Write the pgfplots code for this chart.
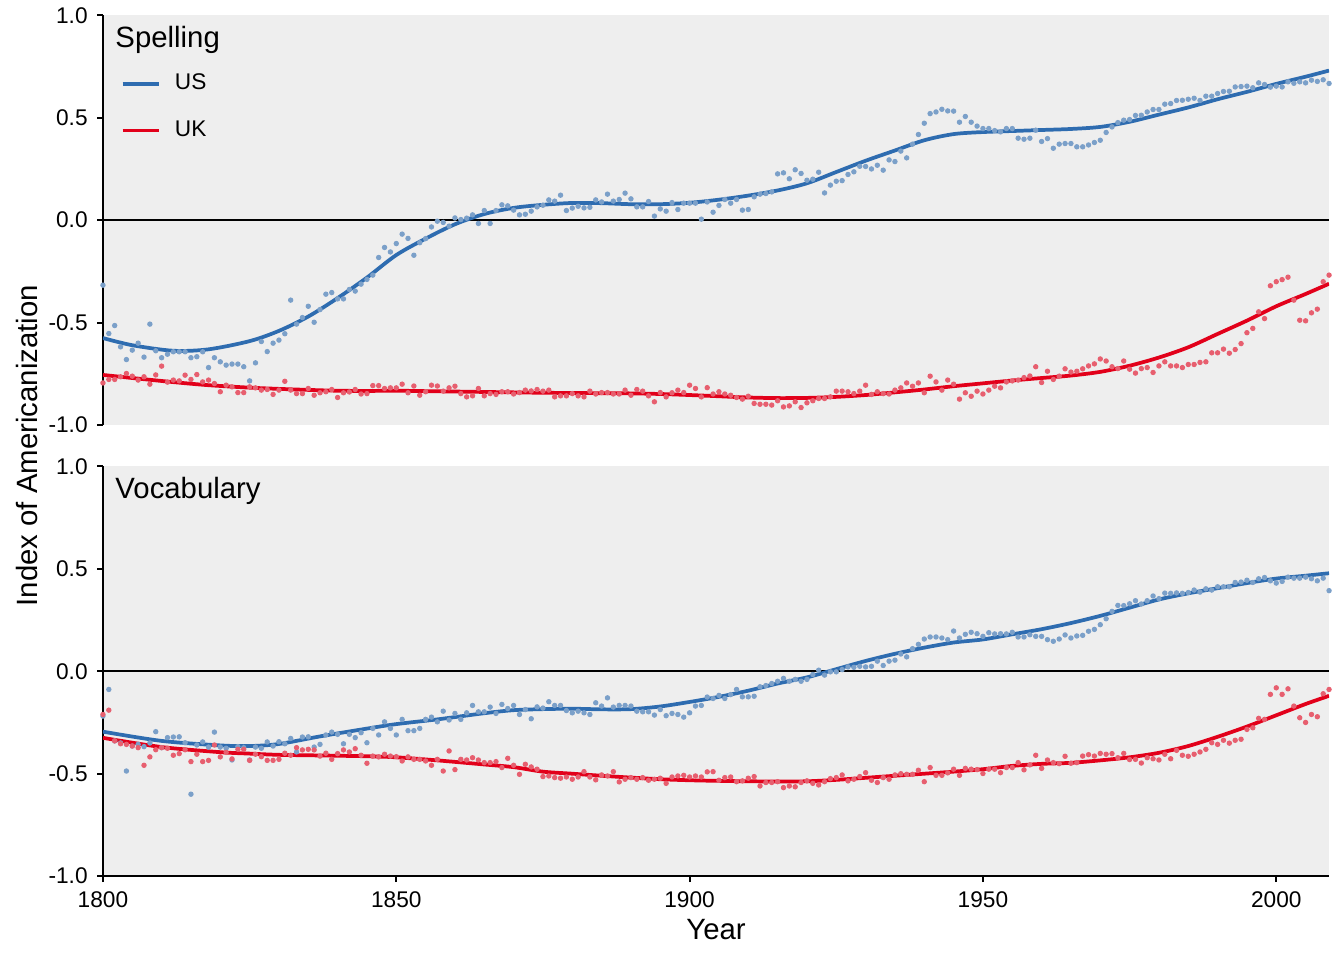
\documentclass[border=0pt]{standalone}
\usepackage{fontspec}
\setmainfont{Liberation Sans}
\usepackage{pgfplots}
\usepackage{pgfplotstable}
\pgfplotsset{compat=1.18}

\definecolor{usblue}{RGB}{46,108,176}
\definecolor{ukred}{RGB}{226,0,26}
\definecolor{panelgray}{RGB}{238,238,238}

% yearly index, spelling panel
\pgfplotstableread{
year us uk
1800 -0.317 -0.794
1801 -0.553 -0.777
1802 -0.514 -0.777
1803 -0.618 -0.764
1804 -0.680 -0.748
1805 -0.634 -0.761
1806 -0.600 -0.780
1807 -0.668 -0.764
1808 -0.507 -0.800
1809 -0.637 -0.755
1810 -0.671 -0.712
1811 -0.654 -0.790
1812 -0.642 -0.780
1813 -0.642 -0.784
1814 -0.642 -0.756
1815 -0.671 -0.777
1816 -0.666 -0.753
1817 -0.642 -0.789
1818 -0.719 -0.780
1819 -0.671 -0.797
1820 -0.691 -0.837
1821 -0.707 -0.805
1822 -0.702 -0.813
1823 -0.702 -0.841
1824 -0.715 -0.841
1825 -0.784 -0.813
1826 -0.696 -0.818
1827 -0.592 -0.829
1828 -0.641 -0.826
1829 -0.600 -0.850
1830 -0.585 -0.829
1831 -0.554 -0.786
1832 -0.390 -0.829
1833 -0.507 -0.846
1834 -0.475 -0.846
1835 -0.420 -0.821
1836 -0.498 -0.854
1837 -0.436 -0.842
1838 -0.361 -0.837
1839 -0.353 -0.826
1840 -0.384 -0.865
1841 -0.384 -0.842
1842 -0.338 -0.838
1843 -0.346 -0.826
1844 -0.312 -0.848
1845 -0.289 -0.846
1846 -0.268 -0.807
1847 -0.182 -0.807
1848 -0.133 -0.821
1849 -0.155 -0.818
1850 -0.114 -0.818
1851 -0.068 -0.800
1852 -0.089 -0.842
1853 -0.171 -0.809
1854 -0.110 -0.854
1855 -0.090 -0.837
1856 -0.033 -0.805
1857 -0.005 -0.809
1858 -0.011 -0.834
1859 -0.029 -0.818
1860 0.011 -0.810
1861 0.003 -0.846
1862 0.010 -0.862
1863 0.026 -0.857
1864 -0.016 -0.821
1865 0.047 -0.857
1866 -0.016 -0.846
1867 0.047 -0.850
1868 0.075 -0.837
1869 0.070 -0.837
1870 0.049 -0.848
1871 0.026 -0.841
1872 0.029 -0.829
1873 0.044 -0.833
1874 0.065 -0.826
1875 0.073 -0.834
1876 0.099 -0.829
1877 0.093 -0.862
1878 0.122 -0.857
1879 0.047 -0.857
1880 0.059 -0.846
1881 0.068 -0.857
1882 0.060 -0.862
1883 0.063 -0.834
1884 0.099 -0.848
1885 0.089 -0.841
1886 0.127 -0.841
1887 0.093 -0.848
1888 0.101 -0.848
1889 0.132 -0.829
1890 0.104 -0.854
1891 0.065 -0.826
1892 0.065 -0.834
1893 0.091 -0.857
1894 0.020 -0.886
1895 0.055 -0.841
1896 0.044 -0.862
1897 0.086 -0.842
1898 0.052 -0.829
1899 0.083 -0.841
1900 0.083 -0.805
1901 0.083 -0.821
1902 0.005 -0.862
1903 0.089 -0.817
1904 0.039 -0.848
1905 0.072 -0.837
1906 0.101 -0.848
1907 0.083 -0.854
1908 0.101 -0.865
1909 0.049 -0.873
1910 0.052 -0.859
1911 0.114 -0.894
1912 0.127 -0.898
1913 0.130 -0.898
1914 0.138 -0.902
1915 0.226 -0.881
1916 0.231 -0.911
1917 0.202 -0.906
1918 0.246 -0.886
1919 0.228 -0.914
1920 0.195 -0.891
1921 0.200 -0.881
1922 0.234 -0.870
1923 0.133 -0.870
1924 0.171 -0.862
1925 0.190 -0.834
1926 0.193 -0.834
1927 0.223 -0.837
1928 0.236 -0.846
1929 0.263 -0.834
1930 0.262 -0.805
1931 0.250 -0.850
1932 0.268 -0.837
1933 0.244 -0.846
1934 0.294 -0.848
1935 0.286 -0.829
1936 0.337 -0.818
1937 0.304 -0.794
1938 0.371 -0.810
1939 0.418 -0.794
1940 0.473 -0.842
1941 0.520 -0.761
1942 0.528 -0.789
1943 0.541 -0.829
1944 0.533 -0.780
1945 0.532 -0.800
1946 0.478 -0.873
1947 0.506 -0.842
1948 0.478 -0.859
1949 0.459 -0.834
1950 0.447 -0.848
1951 0.447 -0.829
1952 0.437 -0.810
1953 0.431 -0.818
1954 0.447 -0.789
1955 0.447 -0.784
1956 0.400 -0.780
1957 0.395 -0.768
1958 0.400 -0.760
1959 0.439 -0.715
1960 0.384 -0.792
1961 0.398 -0.737
1962 0.351 -0.777
1963 0.371 -0.761
1964 0.374 -0.725
1965 0.374 -0.741
1966 0.358 -0.737
1967 0.358 -0.725
1968 0.367 -0.711
1969 0.379 -0.701
1970 0.390 -0.677
1971 0.428 -0.687
1972 0.455 -0.715
1973 0.476 -0.724
1974 0.488 -0.687
1975 0.491 -0.727
1976 0.511 -0.746
1977 0.512 -0.724
1978 0.528 -0.719
1979 0.540 -0.743
1980 0.540 -0.711
1981 0.566 -0.691
1982 0.569 -0.711
1983 0.584 -0.711
1984 0.585 -0.719
1985 0.590 -0.704
1986 0.595 -0.704
1987 0.584 -0.694
1988 0.605 -0.691
1989 0.605 -0.647
1990 0.618 -0.647
1991 0.628 -0.629
1992 0.629 -0.649
1993 0.650 -0.631
1994 0.652 -0.602
1995 0.654 -0.549
1996 0.646 -0.528
1997 0.670 -0.447
1998 0.662 -0.480
1999 0.649 -0.320
2000 0.654 -0.300
2001 0.650 -0.290
2002 0.675 -0.278
2003 0.668 -0.390
2004 0.675 -0.488
2005 0.670 -0.491
2006 0.683 -0.452
2007 0.677 -0.434
2008 0.685 -0.300
2009 0.667 -0.268
}\spelling

% yearly index, vocabulary panel
\pgfplotstableread{
year us uk
1800 -0.219 -0.211
1801 -0.089 -0.190
1802 -0.340 -0.340
1803 -0.350 -0.354
1804 -0.487 -0.357
1805 -0.365 -0.365
1806 -0.357 -0.373
1807 -0.368 -0.459
1808 -0.350 -0.418
1809 -0.295 -0.383
1810 -0.373 -0.373
1811 -0.324 -0.376
1812 -0.321 -0.410
1813 -0.320 -0.402
1814 -0.349 -0.383
1815 -0.600 -0.441
1816 -0.360 -0.405
1817 -0.345 -0.441
1818 -0.370 -0.435
1819 -0.297 -0.360
1820 -0.370 -0.418
1821 -0.376 -0.396
1822 -0.433 -0.428
1823 -0.368 -0.381
1824 -0.373 -0.381
1825 -0.433 -0.435
1826 -0.370 -0.405
1827 -0.376 -0.417
1828 -0.345 -0.435
1829 -0.365 -0.435
1830 -0.344 -0.430
1831 -0.354 -0.400
1832 -0.328 -0.410
1833 -0.394 -0.373
1834 -0.321 -0.384
1835 -0.320 -0.381
1836 -0.370 -0.384
1837 -0.357 -0.414
1838 -0.311 -0.400
1839 -0.297 -0.430
1840 -0.308 -0.402
1841 -0.354 -0.384
1842 -0.308 -0.394
1843 -0.324 -0.378
1844 -0.300 -0.410
1845 -0.349 -0.449
1846 -0.279 -0.414
1847 -0.311 -0.418
1848 -0.247 -0.405
1849 -0.279 -0.414
1850 -0.311 -0.417
1851 -0.235 -0.438
1852 -0.290 -0.418
1853 -0.290 -0.430
1854 -0.279 -0.430
1855 -0.235 -0.438
1856 -0.224 -0.459
1857 -0.247 -0.430
1858 -0.195 -0.487
1859 -0.238 -0.389
1860 -0.206 -0.480
1861 -0.235 -0.430
1862 -0.203 -0.433
1863 -0.167 -0.422
1864 -0.198 -0.433
1865 -0.198 -0.446
1866 -0.175 -0.446
1867 -0.206 -0.441
1868 -0.162 -0.470
1869 -0.182 -0.425
1870 -0.167 -0.459
1871 -0.211 -0.503
1872 -0.187 -0.454
1873 -0.232 -0.467
1874 -0.174 -0.478
1875 -0.180 -0.514
1876 -0.149 -0.511
1877 -0.167 -0.519
1878 -0.167 -0.522
1879 -0.192 -0.516
1880 -0.203 -0.527
1881 -0.195 -0.516
1882 -0.203 -0.490
1883 -0.211 -0.516
1884 -0.154 -0.530
1885 -0.170 -0.506
1886 -0.130 -0.511
1887 -0.175 -0.490
1888 -0.167 -0.540
1889 -0.167 -0.527
1890 -0.170 -0.519
1891 -0.195 -0.527
1892 -0.198 -0.519
1893 -0.198 -0.532
1894 -0.214 -0.527
1895 -0.187 -0.522
1896 -0.217 -0.547
1897 -0.206 -0.516
1898 -0.211 -0.511
1899 -0.224 -0.508
1900 -0.203 -0.516
1901 -0.170 -0.511
1902 -0.167 -0.516
1903 -0.126 -0.491
1904 -0.133 -0.490
1905 -0.118 -0.532
1906 -0.133 -0.519
1907 -0.114 -0.516
1908 -0.089 -0.539
1909 -0.125 -0.535
1910 -0.125 -0.522
1911 -0.122 -0.514
1912 -0.076 -0.560
1913 -0.070 -0.543
1914 -0.060 -0.543
1915 -0.049 -0.539
1916 -0.035 -0.568
1917 -0.049 -0.560
1918 -0.040 -0.564
1919 -0.049 -0.543
1920 -0.040 -0.535
1921 -0.016 -0.547
1922 0.005 -0.555
1923 -0.019 -0.539
1924 -0.003 -0.524
1925 -0.003 -0.519
1926 0.008 -0.506
1927 0.021 -0.535
1928 0.019 -0.527
1929 0.024 -0.514
1930 0.021 -0.495
1931 0.024 -0.532
1932 0.049 -0.543
1933 0.028 -0.519
1934 0.049 -0.527
1935 0.054 -0.506
1936 0.084 -0.500
1937 0.070 -0.503
1938 0.110 -0.503
1939 0.131 -0.483
1940 0.157 -0.539
1941 0.167 -0.470
1942 0.167 -0.508
1943 0.162 -0.508
1944 0.154 -0.496
1945 0.196 -0.478
1946 0.162 -0.508
1947 0.180 -0.474
1948 0.190 -0.478
1949 0.183 -0.480
1950 0.170 -0.499
1951 0.188 -0.478
1952 0.182 -0.478
1953 0.183 -0.495
1954 0.182 -0.470
1955 0.190 -0.470
1956 0.167 -0.446
1957 0.167 -0.481
1958 0.178 -0.457
1959 0.170 -0.410
1960 0.170 -0.474
1961 0.154 -0.433
1962 0.146 -0.446
1963 0.157 -0.451
1964 0.177 -0.415
1965 0.162 -0.449
1966 0.172 -0.446
1967 0.175 -0.414
1968 0.195 -0.407
1969 0.204 -0.414
1970 0.227 -0.401
1971 0.256 -0.405
1972 0.292 -0.402
1973 0.321 -0.422
1974 0.320 -0.401
1975 0.329 -0.431
1976 0.344 -0.430
1977 0.328 -0.448
1978 0.344 -0.422
1979 0.367 -0.427
1980 0.354 -0.433
1981 0.381 -0.405
1982 0.380 -0.427
1983 0.382 -0.386
1984 0.380 -0.410
1985 0.384 -0.415
1986 0.396 -0.405
1987 0.386 -0.394
1988 0.402 -0.381
1989 0.396 -0.349
1990 0.412 -0.357
1991 0.412 -0.337
1992 0.412 -0.351
1993 0.433 -0.337
1994 0.435 -0.332
1995 0.444 -0.284
1996 0.433 -0.276
1997 0.451 -0.230
1998 0.457 -0.235
1999 0.441 -0.113
2000 0.430 -0.081
2001 0.438 -0.113
2002 0.459 -0.086
2003 0.454 -0.170
2004 0.454 -0.227
2005 0.459 -0.250
2006 0.451 -0.211
2007 0.441 -0.222
2008 0.454 -0.110
2009 0.393 -0.089
}\vocabulary

% smoothed trends
\pgfplotstableread{
year us uk
1800 -0.575 -0.755
1805 -0.610 -0.770
1812 -0.637 -0.790
1818 -0.630 -0.805
1825 -0.590 -0.817
1830 -0.540 -0.823
1835 -0.470 -0.828
1840 -0.380 -0.832
1845 -0.280 -0.833
1850 -0.170 -0.832
1855 -0.090 -0.834
1860 -0.020 -0.836
1865 0.030 -0.838
1870 0.060 -0.840
1875 0.075 -0.842
1880 0.084 -0.843
1885 0.083 -0.844
1890 0.078 -0.845
1895 0.078 -0.848
1900 0.085 -0.853
1905 0.100 -0.859
1910 0.120 -0.865
1915 0.145 -0.868
1920 0.180 -0.867
1925 0.235 -0.862
1930 0.290 -0.853
1935 0.340 -0.840
1940 0.390 -0.826
1945 0.420 -0.810
1950 0.430 -0.796
1955 0.435 -0.782
1960 0.440 -0.770
1965 0.445 -0.758
1970 0.455 -0.740
1975 0.480 -0.710
1980 0.515 -0.670
1985 0.550 -0.620
1990 0.590 -0.555
1995 0.626 -0.490
2000 0.665 -0.420
2005 0.700 -0.360
2009 0.730 -0.310
}\spellingtrend

\pgfplotstableread{
year us uk
1800 -0.295 -0.325
1810 -0.340 -0.370
1820 -0.362 -0.395
1825 -0.365 -0.402
1830 -0.355 -0.408
1837 -0.318 -0.411
1845 -0.280 -0.415
1850 -0.258 -0.420
1857 -0.235 -0.435
1865 -0.205 -0.455
1870 -0.190 -0.468
1875 -0.185 -0.490
1880 -0.183 -0.500
1885 -0.186 -0.510
1890 -0.185 -0.519
1895 -0.172 -0.527
1900 -0.150 -0.532
1905 -0.125 -0.535
1910 -0.095 -0.537
1915 -0.060 -0.538
1920 -0.030 -0.537
1925 0.010 -0.530
1930 0.050 -0.520
1935 0.085 -0.510
1940 0.115 -0.500
1945 0.140 -0.490
1950 0.155 -0.478
1955 0.180 -0.462
1960 0.205 -0.452
1965 0.235 -0.447
1970 0.270 -0.435
1975 0.310 -0.420
1980 0.350 -0.398
1985 0.380 -0.365
1990 0.405 -0.320
1995 0.430 -0.270
2000 0.452 -0.215
2005 0.466 -0.160
2009 0.478 -0.120
}\vocabularytrend

\pgfplotsset{
  panel/.style={
    scale only axis,
    width=459.7pt, height=153.7pt,
    xmin=1800, xmax=2009,
    ymin=-1, ymax=1,
    axis background/.style={fill=panelgray},
    axis line style={line width=0.8pt, black},
    major tick style={line width=0.8pt, black},
    tick align=outside,
    major tick length=2.2pt,
    ytick={-1,-0.5,0,0.5,1},
    yticklabels={-1.0,-0.5,0.0,0.5,1.0},
    ytick pos=left,
    ticklabel style={font=\fontsize{8.5}{10}\selectfont},
  },
  dots/.style={only marks, mark=*, mark size=0.8pt,
    color=#1!60!panelgray, forget plot},
  trend/.style={no marks, smooth, line width=1.4pt, color=#1},
}
\tikzset{
  paneltitle/.style={anchor=base west, inner sep=0pt, xshift=4.5pt,
    yshift=-12pt, font=\fontsize{11}{13}\selectfont},
}

\begin{document}
\begin{tikzpicture}
\path[use as bounding box] (-38.6pt,-200.6pt) rectangle (465.3pt,159.4pt);

\begin{axis}[panel, name=top, at={(0,0)}, anchor=south west,
  axis y line*=left, axis x line=none,
  legend style={at={(axis description cs:0,1)}, anchor=north west,
    xshift=3.5pt, yshift=-17.9pt, draw=none, fill=none,
    font=\fontsize{8.5}{10}\selectfont, row sep=6pt,
    nodes={inner sep=2pt}},
  legend cell align=left,
  /tikz/every odd column/.append style={column sep=3.4pt},
  legend image code/.code={\draw[#1, line width=1.4pt] (0pt,0pt) -- (13.5pt,0pt);},
]
  \addplot[black, line width=0.8pt, forget plot] coordinates {(1800,0) (2009,0)};
  \addplot[dots=usblue] table[x=year, y=us] {\spelling};
  \addplot[dots=ukred] table[x=year, y=uk] {\spelling};
  \addplot[trend=usblue, forget plot] table[x=year, y=us] {\spellingtrend};
  \addplot[trend=ukred, forget plot] table[x=year, y=uk] {\spellingtrend};
  \addlegendimage{usblue}
  \addlegendentry{US}
  \addlegendimage{ukred}
  \addlegendentry{UK}
  \node[paneltitle] at (rel axis cs:0,1) {Spelling};
\end{axis}

\begin{axis}[panel, name=bottom, at={(0,-169.1pt)}, anchor=south west,
  axis lines*=left,
  xtick={1800,1850,1900,1950,2000},
  xticklabels={1800,1850,1900,1950,2000},
  xtick pos=bottom,
  xlabel={Year},
  xlabel style={at={(axis description cs:0.5,0)}, anchor=base,
    yshift=-23.6pt, font=\fontsize{11}{13}\selectfont},
]
  \addplot[black, line width=0.8pt, forget plot] coordinates {(1800,0) (2009,0)};
  \addplot[dots=usblue] table[x=year, y=us] {\vocabulary};
  \addplot[dots=ukred] table[x=year, y=uk] {\vocabulary};
  \addplot[trend=usblue] table[x=year, y=us] {\vocabularytrend};
  \addplot[trend=ukred] table[x=year, y=uk] {\vocabularytrend};
  \node[paneltitle] at (rel axis cs:0,1) {Vocabulary};
\end{axis}

\node[rotate=90, font=\fontsize{11}{13}\selectfont] at (-28.5pt,-7.7pt)
  {Index of Americanization};
\end{tikzpicture}
\end{document}
